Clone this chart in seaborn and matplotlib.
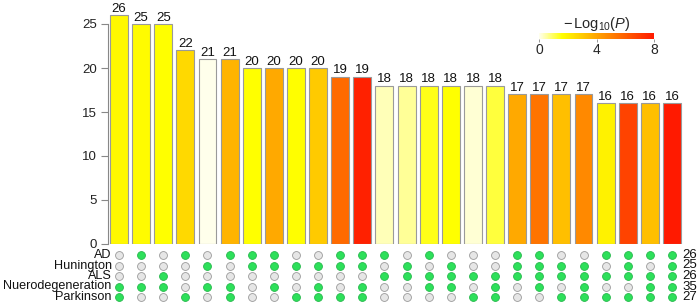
import numpy as np
import pandas as pd
import matplotlib
matplotlib.use("Agg")
import matplotlib.pyplot as plt
import seaborn as sns
from matplotlib.colors import LinearSegmentedColormap, Normalize
from matplotlib.cm import ScalarMappable

# ---- data ----
counts = [26, 25, 25, 22, 21, 21, 20, 20, 20, 20, 19, 19, 18, 18, 18, 18, 18, 18,
          17, 17, 17, 17, 16, 16, 16, 16]
neglog_p = [1.8, 1.7, 1.6, 2.6, 0.05, 3.6, 1.6, 3.9, 1.65, 3.0, 5.7, 7.8, 0.4, 0.6,
            1.45, 1.6, 0.2, 1.2, 3.9, 5.4, 3.3, 4.8, 1.95, 6.8, 3.3, 8.0]
sets = ["AD", "Hunington", "ALS", "Nuerodegeneration", "Parkinson"]
set_totals = [26, 25, 26, 35, 27]
membership = {
    "AD":                [0,1,0,1,0,1,1,1,0,0,1, 1,1,0,1,0,0,0,1,1,0,0,1,1,1,1],
    "Hunington":         [0,0,0,0,1,0,1,1,1,1,1, 1,0,1,0,1,0,0,1,1,1,1,0,1,0,1],
    "ALS":               [0,0,1,0,0,0,0,0,0,0,0, 0,1,1,1,1,1,1,1,1,1,1,1,1,1,1],
    "Nuerodegeneration": [1,1,1,0,1,1,0,1,0,1,0, 1,0,0,1,1,0,1,0,1,0,1,0,0,1,1],
    "Parkinson":         [1,0,0,1,0,1,0,0,1,1,1, 1,0,0,0,0,1,1,0,0,1,1,1,1,1,1],
}
cbar_ticks = [0, 4, 8]

# ---- style ----
sns.set_style("white")
plt.rcParams["font.family"] = ["Liberation Sans", "DejaVu Sans"]
plt.rcParams["mathtext.fontset"] = "custom"
plt.rcParams["mathtext.rm"] = "Liberation Sans"
plt.rcParams["mathtext.it"] = "Liberation Sans:italic"

FS = 9.5
W, H = 700, 306
fig = plt.figure(figsize=(7, 3.06), dpi=100)

cmap = LinearSegmentedColormap.from_list(
    "ylor", [(0.0, "#FFFFF0"), (0.2, "#FFFF00"), (0.5, "#FFA500"), (1.0, "#FF1A00")])
norm = Normalize(0, 8)

n = len(counts)
x0_px, step_px = 119, 22.12
xlo, xhi = -0.5, 25.8
ax_left = x0_px + xlo * step_px
ax_right = x0_px + xhi * step_px

y0_px, unit_px = 244, 8.8
ytop = 27.5
ax_top_px = y0_px - ytop * unit_px

ax = fig.add_axes([ax_left / W, (H - y0_px) / H, (ax_right - ax_left) / W,
                   (y0_px - ax_top_px) / H])

df = pd.DataFrame({"idx": np.arange(n), "count": counts, "p": neglog_p})
colors = [cmap(norm(v)) for v in neglog_p]
sns.barplot(data=df, x="idx", y="count", hue="idx", palette=colors, legend=False,
            width=0.81, edgecolor="#9a9a9a", linewidth=0.8, ax=ax, native_scale=True,
            saturation=1)
ax.set_xlim(xlo, xhi)
ax.set_ylim(0, ytop)
ax.set_xlabel("")
ax.set_ylabel("")
ax.set_xticks([])
ax.set_yticks([0, 5, 10, 15, 20, 25])
ax.tick_params(axis="y", left=True, length=5, width=0.8, color="#888888",
               labelsize=FS, pad=3, labelcolor="#222222")
for s in ["top", "right", "bottom"]:
    ax.spines[s].set_visible(False)
ax.spines["left"].set_bounds(0, 25)
ax.spines["left"].set_color("#888888")
ax.spines["left"].set_linewidth(0.8)
ax.patch.set_alpha(0)
for i, c in enumerate(counts):
    ax.text(i, c + 0.05, str(c), ha="center", va="bottom", fontsize=FS, color="#111111")

# ---- dot matrix ----
row_px = [255, 265.5, 276, 286.5, 297]
axd = fig.add_axes([ax_left / W, 0, (ax_right - ax_left) / W, (H - 248) / H])
axd.set_xlim(xlo, xhi)
axd.set_ylim(H, 248)
axd.axis("off")
rows = []
for s, y in zip(sets, row_px):
    for i, m in enumerate(membership[s]):
        rows.append({"x": i, "y": y, "m": m})
ddf = pd.DataFrame(rows)
sns.scatterplot(data=ddf[ddf.m == 0], x="x", y="y", s=32, color="#e6e6e6",
                edgecolor="#9a9a9a", linewidth=0.6, ax=axd, legend=False)
sns.scatterplot(data=ddf[ddf.m == 1], x="x", y="y", s=32, color="#2de05a",
                edgecolor="#27b84c", linewidth=0.6, ax=axd, legend=False)
for s, y, t in zip(sets, row_px, set_totals):
    axd.text(-0.33, y, s, ha="right", va="center", fontsize=9.1, color="#111111")
    axd.text(25.45, y, str(t), ha="left", va="center", fontsize=FS, color="#111111")
axd.set_xlabel("")
axd.set_ylabel("")

# ---- colorbar ----
cax = fig.add_axes([539 / W, (H - 39) / H, (654 - 539) / W, 6 / H])
cb = fig.colorbar(ScalarMappable(norm=norm, cmap=cmap), cax=cax, orientation="horizontal")
cb.outline.set_visible(False)
cb.set_ticks(cbar_ticks)
cax.tick_params(length=2, width=0.6, color="#888888", labelsize=FS + 0.5, pad=1)
fig.text(597 / W, (H - 24) / H, r"$-\,\mathrm{Log}_{10}(\mathit{P})$", ha="center",
         va="center", fontsize=10.5)

fig.savefig("out.png", dpi=100)
